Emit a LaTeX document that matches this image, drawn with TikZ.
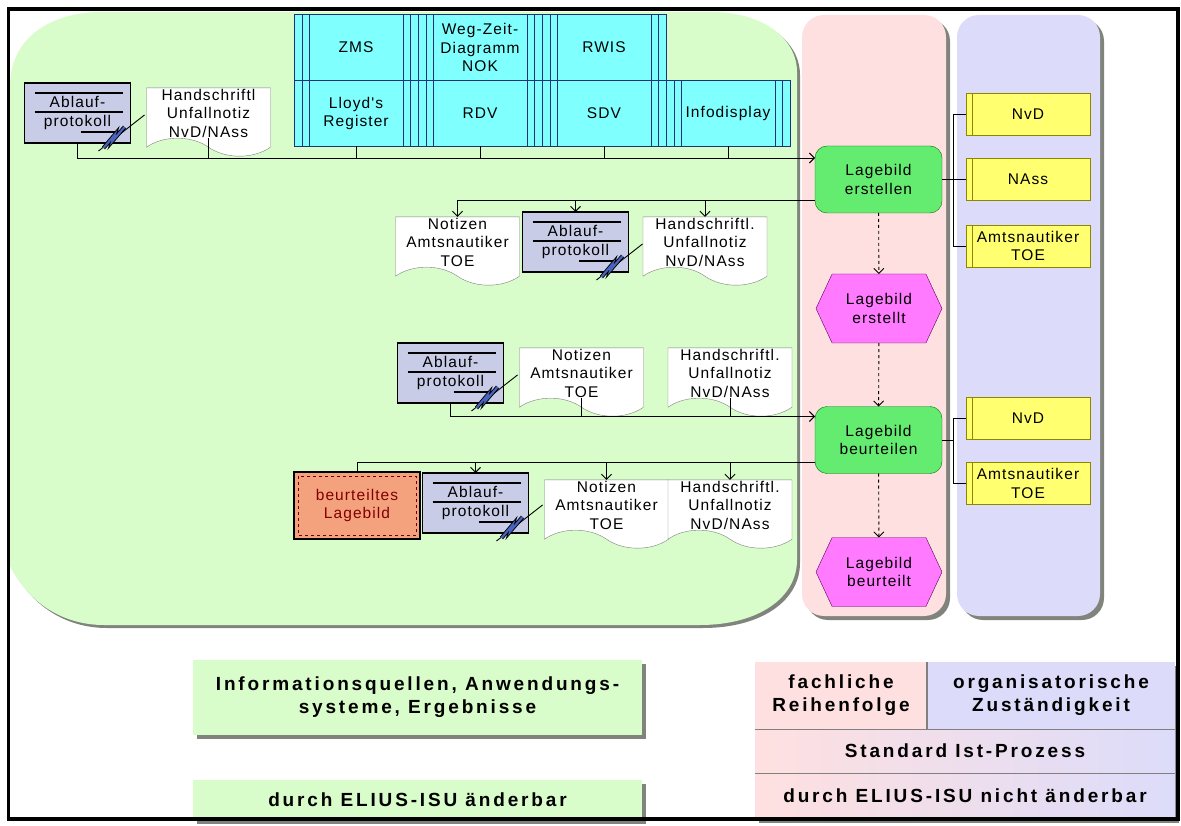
\documentclass[tikz,border=0pt]{standalone}
\usepackage{fontspec}
\usetikzlibrary{positioning,calc,arrows.meta,shapes.symbols,shadows}
\newfontfamily\lblfont[LetterSpace=7]{Liberation Sans}
\newfontfamily\legfont[LetterSpace=15]{Liberation Sans}
\definecolor{regiongreen}{RGB}{216,252,202}
\definecolor{colpink}{RGB}{255,224,224}
\definecolor{collav}{RGB}{220,220,250}
\definecolor{shadowgray}{RGB}{128,132,124}
\definecolor{appcyan}{RGB}{128,255,255}
\definecolor{appnavy}{RGB}{30,50,120}
\definecolor{protofill}{RGB}{200,204,230}
\definecolor{procgreen}{RGB}{100,236,112}
\definecolor{evtmagenta}{RGB}{255,122,255}
\definecolor{roleyellow}{RGB}{255,255,112}
\definecolor{resultorange}{RGB}{244,162,126}
\definecolor{boltblue}{RGB}{70,100,190}
\tikzset{
  lbl/.style={font=\lblfont\fontsize{15.5}{18.5}\selectfont, align=center, inner sep=1pt, outer sep=0pt},
  appbox/.style={lbl, draw=appnavy, fill=appcyan, minimum width=124, minimum height=66,
    path picture={
      \foreach \dx in {8,15} {
        \draw[appnavy] ([xshift=\dx pt]path picture bounding box.north west) -- ([xshift=\dx pt]path picture bounding box.south west);
        \draw[appnavy] ([xshift=-\dx pt]path picture bounding box.north east) -- ([xshift=-\dx pt]path picture bounding box.south east);
      }}},
  protobox/.style={lbl, draw=black, line width=1.2pt, fill=protofill, minimum width=106, minimum height=60,
    path picture={
      \draw ([shift={(10pt,-10pt)}]path picture bounding box.north west) -- ([shift={(-8pt,-10pt)}]path picture bounding box.north east);
      \draw ([shift={(10pt,-29pt)}]path picture bounding box.north west) -- ([shift={(-8pt,-29pt)}]path picture bounding box.north east);
      \draw ([shift={(-50pt,11pt)}]path picture bounding box.south east) -- ([shift={(-12pt,11pt)}]path picture bounding box.south east);
      }},
  infodoc/.style={lbl, tape, tape bend top=none, tape bend bottom=out and in, tape bend height=18pt,
    draw=gray, fill=white, minimum width=124, minimum height=66},
  process/.style={lbl, draw=green!45!black, fill=procgreen, rounded corners=12, minimum width=127, minimum height=67},
  event/.style={lbl, signal, signal to=east and west, signal pointer angle=130, draw=violet!70!black,
    fill=evtmagenta, minimum width=126, minimum height=69},
  rolebox/.style={lbl, draw=olive, fill=roleyellow, minimum width=124, minimum height=42,
    path picture={\draw[olive] ([xshift=6pt]path picture bounding box.north west) -- ([xshift=6pt]path picture bounding box.south west);}},
  resultbox/.style={lbl, draw=black, line width=1.2pt, fill=resultorange, text=red!50!black, minimum width=126, minimum height=67,
    path picture={\draw[red!45!black, dashed, line width=1pt] ([shift={(4pt,-4pt)}]path picture bounding box.north west) rectangle ([shift={(-4pt,4pt)}]path picture bounding box.south east);}},
  flow/.style={line width=0.9pt, -{Straight Barb[length=5pt,width=10pt]}},
  link/.style={line width=0.9pt},
  dflow/.style={flow, dashed},
  legend/.style={font=\legfont\bfseries\fontsize{19}{23}\selectfont, align=center, inner sep=0pt, outer sep=0pt,
    drop shadow={shadow xshift=4pt, shadow yshift=-4pt, fill=shadowgray, opacity=1}}
}
\begin{document}
\begin{tikzpicture}[x=1pt, y=-1pt]
\useasboundingbox (0,0) rectangle (1181,826);

% areas
\fill[regiongreen, preaction={fill=shadowgray, transform canvas={shift={(3pt,-3pt)}}}]
  (10,86) .. controls (10,40) and (48,12) .. (102,12) -- (712,12) .. controls (762,12) and (797,38) .. (797,72)
  -- (797,560) .. controls (797,598) and (758,625) .. (700,625) -- (104,625) .. controls (62,625) and (28,602) .. (10,566) -- cycle;
\fill[colpink, rounded corners=22, preaction={fill=shadowgray, rounded corners=22, transform canvas={shift={(4pt,-4pt)}}}] (802,15) rectangle (946,616);
\fill[collav, rounded corners=22, preaction={fill=shadowgray, rounded corners=22, transform canvas={shift={(4pt,-4pt)}}}] (957,15) rectangle (1100,616);

% application systems
\node[appbox] (zms) at (356,47.5) {ZMS};
\node[appbox, right=0pt of zms] (wegzeit) {Weg-Zeit-\\Diagramm\\NOK};
\node[appbox, right=0pt of wegzeit] (rwis) {RWIS};
\node[appbox, below=0pt of zms] (lloyd) {Lloyd's\\Register};
\node[appbox, right=0pt of lloyd] (rdv) {RDV};
\node[appbox, right=0pt of rdv] (sdv) {SDV};
\node[appbox, right=0pt of sdv] (infodisp) {Infodisplay};

% information carriers
\node[protobox] (proto1) at (77.5,113) {Ablauf-\\protokoll};
\node[infodoc] (hand1) at (208.5,113) {Handschriftl\\Unfallnotiz\\NvD/NAss};

\node[infodoc] (notiz2) at (457.5,242) {Notizen\\Amtsnautiker\\TOE};
\node[protobox] (proto2) at (575.5,242) {Ablauf-\\protokoll};
\node[infodoc] (hand2) at (705,242) {Handschriftl.\\Unfallnotiz\\NvD/NAss};

\node[protobox] (proto3) at (450.5,373) {Ablauf-\\protokoll};
\node[infodoc] (notiz3) at (581.5,373) {Notizen\\Amtsnautiker\\TOE};
\node[infodoc] (hand3) at (730,373) {Handschriftl.\\Unfallnotiz\\NvD/NAss};

\node[resultbox] (result) at (357,505.5) {beurteiltes\\Lagebild};
\node[protobox] (proto4) at (475.5,503) {Ablauf-\\protokoll};
\node[infodoc] (notiz4) at (606.5,505) {Notizen\\Amtsnautiker\\TOE};
\node[infodoc] (hand4) at (730,505) {Handschriftl.\\Unfallnotiz\\NvD/NAss};

% electronic marks
\foreach \p in {proto1,proto2,proto3,proto4} {
  \draw[line width=0.9pt] ($(\p.south east)+(-32,8)$) -- ++(46,-36);
  \draw[line width=4pt, line join=miter] ($(\p.south east)+(-27,5)$) -- ++(11,-13) -- ++(-2,6) -- ++(12,-14);
  \draw[boltblue, line width=2.2pt, line join=miter] ($(\p.south east)+(-27,5)$) -- ++(11,-13) -- ++(-2,6) -- ++(12,-14);
}

% process chain
\node[process] (erst) at (878.5,179.5) {Lagebild\\erstellen};
\node[event] (evt1) at (879,308.5) {Lagebild\\erstellt};
\node[process] (beurt) at (878.5,440) {Lagebild\\beurteilen};
\node[event] (evt2) at (879,572) {Lagebild\\beurteilt};

% roles
\node[rolebox] (nvd1) at (1028,114.5) {NvD};
\node[rolebox] (nass) at (1028,179.5) {NAss};
\node[rolebox] (amts1) at (1028,246) {Amtsnautiker\\TOE};
\node[rolebox] (nvd2) at (1028,418.5) {NvD};
\node[rolebox] (amts2) at (1028,483.5) {Amtsnautiker\\TOE};

% connectors
\coordinate (in1) at ($(erst.north west)+(0,12)$);
\draw[flow] (proto1.south) |- (in1);
\foreach \n in {hand1,lloyd,rdv,sdv,infodisp} \draw[link] (\n.south) -- (\n.south |- in1);

\coordinate (out1) at ($(erst.south west)+(0,-13)$);
\draw[flow] (out1) -| (notiz2.north);
\foreach \n in {proto2,hand2} \draw[flow] (\n.north |- out1) -- (\n.north);

\draw[dflow] (erst) -- (evt1);
\draw[dflow] (evt1) -- (beurt);
\draw[dflow] (beurt) -- (evt2);

\coordinate (in2) at ($(beurt.north west)+(0,10)$);
\draw[flow] (proto3.south) |- (in2);
\foreach \n in {notiz3,hand3} \draw[link] (\n.south) -- (\n.south |- in2);

\coordinate (out2) at ($(beurt.south west)+(0,-11)$);
\draw[link] (out2) -| (result.north);
\foreach \n in {proto4,notiz4,hand4} \draw[flow] (\n.north |- out2) -- (\n.north);

\draw[link] (nvd1.west) -| ($(erst.east)+(11,0)$) |- (amts1.west);
\draw[link] (erst.east) -- (nass.west);
\draw[link] (nvd2.west) -| ($(beurt.east)+(11,0)$) |- (amts2.west);
\draw[link] (beurt.east) -- ++(11,0);

% legend
\node[legend, fill=regiongreen, minimum width=449, minimum height=75] (legsrc) at (417.5,697.5) {Informationsquellen, Anwendungs-\\systeme, Ergebnisse};
\node[legend, fill=regiongreen, minimum width=449, minimum height=40] (legchg) at (417.5,800) {durch ELIUS-ISU änderbar};
\node[legend, fill=colpink, minimum width=172, minimum height=67] (legseq) at (841,695.5) {fachliche\\Reihenfolge};
\node[legend, fill=collav, minimum width=248, minimum height=67] (legorg) at (1051,695.5) {organisatorische\\Zuständigkeit};
\node[legend, left color=colpink, right color=collav, minimum width=420, minimum height=44] (legstd) at (965,751) {Standard Ist-Prozess};
\node[legend, left color=colpink, right color=collav, minimum width=420, minimum height=46] (legnot) at (965,796) {durch ELIUS-ISU nicht änderbar};
\draw[gray, line width=1.5pt] (legseq.north east) -- (legseq.south east);
\draw[gray, line width=1pt] (legstd.north west) -- (legstd.north east);
\draw[gray, line width=1pt] (legnot.north west) -- (legnot.north east);

% frame
\draw[line width=3.5pt] (8.5,9) rectangle (1178,819);
\end{tikzpicture}
\end{document}
